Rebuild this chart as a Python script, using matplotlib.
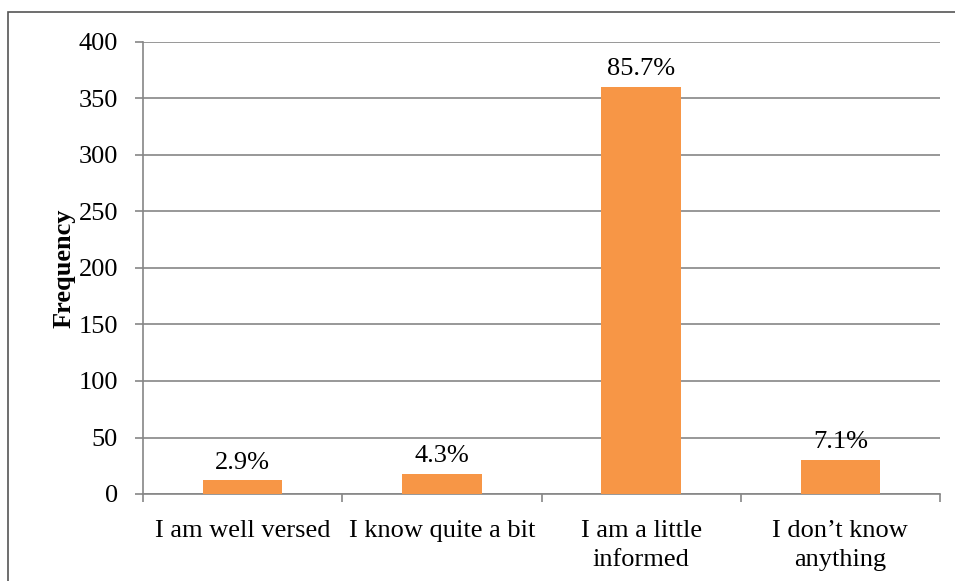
import matplotlib
matplotlib.use("Agg")
import matplotlib.pyplot as plt
from matplotlib.patches import Rectangle

categories = ["I am well versed", "I know quite a bit", "I am a little\ninformed", "I don\u2019t know\nanything"]
values = [12, 18, 360, 30]
pct_labels = ["2.9%", "4.3%", "85.7%", "7.1%"]

plt.rcParams['font.family'] = ['Liberation Serif', 'DejaVu Serif']

fig = plt.figure(figsize=(9.55, 5.81), dpi=100)
ax = fig.add_axes([143/955, 1-494/581, (940-143)/955, (494-42)/581])

grid_c = '#868686'
fs = 19
x = list(range(len(categories)))
bars = ax.bar(x, values, width=0.4, color='#F79646', zorder=3)
for xi, v, t in zip(x, values, pct_labels):
    ax.text(xi, v + 6, t, ha='center', va='bottom', fontsize=fs, zorder=4)

ax.set_xlim(-0.5, 3.5)
ax.set_ylim(0, 400)
ax.set_yticks(range(0, 401, 50))
ax.tick_params(axis='y', labelsize=fs, length=6, color=grid_c, width=1.2, pad=12)
ax.yaxis.grid(True, color=grid_c, linewidth=1.2, zorder=0)
ax.set_axisbelow(True)

ax.set_xticks(x)
ax.set_xticklabels(categories, fontsize=fs, linespacing=1.4)
ax.tick_params(axis='x', length=0, pad=19)
ax.set_xticks([-0.5, 0.5, 1.5, 2.5, 3.5], minor=True)
ax.tick_params(axis='x', which='minor', length=6, color=grid_c, width=1.2)

for s in ['top', 'right']:
    ax.spines[s].set_visible(False)
for s in ['left', 'bottom']:
    ax.spines[s].set_color(grid_c)
    ax.spines[s].set_linewidth(1.2)

ax.set_ylabel("Frequency", fontsize=fs, fontweight='bold', labelpad=2)

fig.patches.append(Rectangle((8/955, -0.1), 1.2, 1 - 12/581 + 0.1, transform=fig.transFigure,
                             fill=False, edgecolor='#555555', linewidth=1.2))

fig.savefig("out.png", dpi=100)
